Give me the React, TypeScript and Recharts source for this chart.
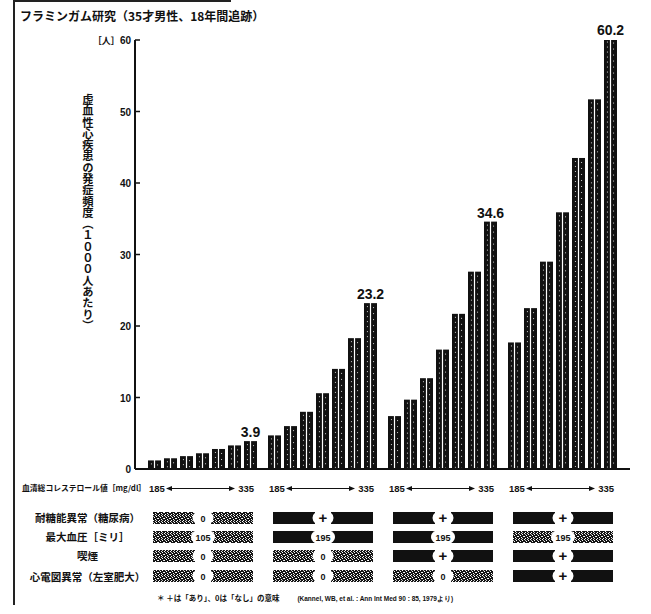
import React from 'react';
import { BarChart, Bar, XAxis, YAxis, LabelList } from 'recharts';

// ---- data ----
const groups = ['g1', 'g2', 'g3', 'g4'];
const cholesterolLevels = ['185', '210', '235', '260', '285', '310', '335'];
const group1Values = [1.2, 1.5, 1.8, 2.2, 2.8, 3.3, 3.9];
const group2Values = [4.7, 6.0, 8.0, 10.6, 14.0, 18.3, 23.2];
const group3Values = [7.4, 9.7, 12.7, 16.7, 21.7, 27.6, 34.6];
const group4Values = [17.7, 22.5, 29.0, 35.9, 43.5, 51.7, 60.2];
const yTicks = [0, 10, 20, 30, 40, 50, 60];
const cholesterolRange = ['185', '335'];
const diabetes = ['0', '+', '+', '+'];
const bloodPressure = ['105', '195', '195', '195'];
const bloodPressureFill = ['speckle', 'solid', 'solid', 'speckle'];
const smoking = ['0', '0', '+', '+'];
const ecg = ['0', '0', '0', '+'];
const rowLabels = ['耐糖能異常（糖尿病）', '最大血圧［ミリ］', '喫煙', '心電図異常（左室肥大）'];
const title = 'フラミンガム研究（35才男性、18年間追跡）';
const yLabel = '虚血性心疾患の発症頻度（１０００人あたり）';
const cholesterolLabel = '血清総コレステロール値［mg/dl］';
const footnote = '＊ ＋は「あり」、0は「なし」の意味';
const source = '(Kannel, WB, et al. : Ann Int Med 90 : 85, 1979より)';

const seriesByGroup = [group1Values, group2Values, group3Values, group4Values];
const data = groups.map((g, i) => {
  const row: any = { group: g, idx: i };
  cholesterolLevels.forEach((c, j) => {
    row['c' + c] = seriesByGroup[i][j];
  });
  return row;
});

const JP = '"Noto Sans CJK JP", "Noto Sans", sans-serif';
const NUM = '"Liberation Sans", Arial, sans-serif';

const PairBar = (props: any) => {
  const { x, y, width, height } = props;
  if (!height || height <= 0) return null;
  const gap = 1.2;
  const w = (width - gap) / 2;
  return (
    <g>
      <rect x={x} y={y} width={w} height={height} fill="#111" />
      <rect x={x + w + gap} y={y} width={w} height={height} fill="#111" />
      <line x1={x + w / 2 + 0.5} x2={x + w / 2 + 0.5} y1={y + 3} y2={y + height} stroke="#fff" strokeWidth={0.8} strokeDasharray="1 4" />
      <line x1={x + w + gap + w / 2 - 0.5} x2={x + w + gap + w / 2 - 0.5} y1={y + 4} y2={y + height} stroke="#fff" strokeWidth={0.8} strokeDasharray="1 5" />
    </g>
  );
};

const YTick = (props: any) => {
  const { x, y, payload } = props;
  const v = payload.value;
  return (
    <g>
      <text x={x} y={y} dy={4} textAnchor="end" fontFamily={NUM} fontWeight="bold" fontSize={10} fill="#111">
        {v === 60 ? (
          <>
            <tspan fontFamily={JP} fontSize={9}>［人］</tspan>
            <tspan>60</tspan>
          </>
        ) : (
          String(v)
        )}
      </text>
      <line x1={x + 4} x2={x + 9} y1={y} y2={y} stroke="#111" strokeWidth={1.5} />
    </g>
  );
};

const Cell = ({ cx, cy, symbol, fill }: any) => {
  const f = fill === 'solid' ? '#111' : 'url(#speckle)';
  const small = symbol !== '+';
  return (
    <g>
      <rect x={cx - 50} y={cy - 6} width={42} height={12} fill={f} />
      <rect x={cx + 8} y={cy - 6} width={42} height={12} fill={f} />
      <ellipse cx={cx} cy={cy} rx={symbol.length > 1 ? 12 : 10.5} ry={8} fill="#fff" />
      <text
        x={cx}
        y={cy}
        dy={small ? 3.5 : 5}
        textAnchor="middle"
        fontFamily={NUM}
        fontWeight="bold"
        fontSize={small ? 9 : 15}
        fill="#111"
      >
        {symbol}
      </text>
    </g>
  );
};

const GroupTick = (props: any) => {
  const { x, y, index } = props;
  const cx = x;
  const rowY = [y + 49, y + 68, y + 87, y + 107];
  const symFill = (s: string) => (s === '+' ? 'solid' : 'speckle');
  return (
    <g>
      {index === 0 && (
        <defs>
          <pattern id="speckle" width={6} height={6} patternUnits="userSpaceOnUse">
            <rect width={6} height={6} fill="#151515" />
            <rect x={0} y={0} width={1} height={1} fill="#fff" />
            <rect x={3} y={0} width={1} height={1} fill="#bbb" />
            <rect x={4} y={1} width={1} height={1} fill="#fff" />
            <rect x={1} y={2} width={1} height={1} fill="#eee" />
            <rect x={2} y={2} width={1} height={1} fill="#fff" />
            <rect x={5} y={3} width={1} height={1} fill="#fff" />
            <rect x={0} y={4} width={1} height={1} fill="#ccc" />
            <rect x={3} y={4} width={1} height={1} fill="#fff" />
            <rect x={2} y={5} width={1} height={1} fill="#fff" />
            <rect x={5} y={5} width={1} height={1} fill="#ddd" />
          </pattern>
          <marker id="ah" markerWidth={6} markerHeight={6} refX={5} refY={3} orient="auto-start-reverse" markerUnits="userSpaceOnUse">
            <path d="M0,0.5 L6,3 L0,5.5 Z" fill="#111" />
          </marker>
        </defs>
      )}
      <text x={cx - 54} y={y + 23} fontFamily={NUM} fontWeight="bold" fontSize={9.5} fill="#111">
        {cholesterolRange[0]}
      </text>
      <line x1={cx - 36} x2={cx + 31} y1={y + 19.5} y2={y + 19.5} stroke="#111" strokeWidth={1} markerStart="url(#ah)" markerEnd="url(#ah)" />
      <text x={cx + 51} y={y + 23} textAnchor="end" fontFamily={NUM} fontWeight="bold" fontSize={9.5} fill="#111">
        {cholesterolRange[1]}
      </text>
      <Cell cx={cx} cy={rowY[0]} symbol={diabetes[index]} fill={symFill(diabetes[index])} />
      <Cell cx={cx} cy={rowY[1]} symbol={bloodPressure[index]} fill={bloodPressureFill[index]} />
      <Cell cx={cx} cy={rowY[2]} symbol={smoking[index]} fill={symFill(smoking[index])} />
      <Cell cx={cx} cy={rowY[3]} symbol={ecg[index]} fill={symFill(ecg[index])} />
    </g>
  );
};

export default function App() {
  const rowTops = [511, 530, 549, 570];
  return (
    <div style={{ position: 'absolute', left: 0, top: 0, width: 651, height: 614, background: '#fff', overflow: 'hidden' }}>
      {/* frame lines */}
      <div style={{ position: 'absolute', left: 13, top: 0, width: 2, height: 605, background: '#222' }} />
      <div style={{ position: 'absolute', left: 13, top: 0, width: 218, height: 2, background: '#222' }} />
      <div style={{ position: 'absolute', left: 20, top: 9, fontFamily: JP, fontWeight: 'bold', fontSize: 12, lineHeight: '14px', color: '#111', whiteSpace: 'nowrap' }}>
        {title}
      </div>
      <div
        style={{
          position: 'absolute',
          left: 81,
          top: 94,
          writingMode: 'vertical-rl',
          fontFamily: JP,
          fontWeight: 'bold',
          fontSize: 11.3,
          lineHeight: '13px',
          color: '#111',
          whiteSpace: 'nowrap',
        }}
      >
        {yLabel}
      </div>
      <BarChart
        width={651}
        height={614}
        data={data}
        margin={{ top: 40, right: 21, bottom: 5, left: 105 }}
        barCategoryGap={5}
        barGap={3}
        style={{ position: 'absolute', left: 0, top: 0 }}
      >
        <YAxis
          width={30}
          domain={[0, 60]}
          ticks={yTicks}
          allowDataOverflow
          tickSize={0}
          tickMargin={4}
          tick={<YTick />}
          axisLine={{ stroke: '#111', strokeWidth: 2 }}
          tickLine={false}
        />
        <XAxis
          dataKey="group"
          height={140}
          padding={{ left: 8, right: 7 }}
          tickSize={0}
          tickMargin={0}
          tickLine={false}
          interval={0}
          tick={<GroupTick />}
          axisLine={{ stroke: '#111', strokeWidth: 2 }}
        />
        {cholesterolLevels.map((c, j) => (
          <Bar key={c} dataKey={'c' + c} shape={<PairBar />} isAnimationActive={false}>
            {j === cholesterolLevels.length - 1 && (
              <LabelList
                dataKey={'c' + c}
                position="top"
                offset={4}
                formatter={(v: any) => Number(v).toFixed(1)}
                style={{ fontFamily: NUM, fontWeight: 'bold', fontSize: 14, fill: '#111' }}
              />
            )}
          </Bar>
        ))}
      </BarChart>
      <div style={{ position: 'absolute', left: 22, top: 483, fontFamily: JP, fontWeight: 'bold', fontSize: 7.8, lineHeight: '10px', color: '#111', whiteSpace: 'nowrap' }}>
        {cholesterolLabel}
      </div>
      {rowLabels.map((t, i) => (
        <div
          key={t}
          style={{
            position: 'absolute',
            left: 10,
            width: 155,
            top: rowTops[i],
            textAlign: 'center',
            fontFamily: JP,
            fontWeight: 'bold',
            fontSize: 10.5,
            lineHeight: '13px',
            color: '#111',
            whiteSpace: 'nowrap',
          }}
        >
          {t}
        </div>
      ))}
      <div style={{ position: 'absolute', left: 157, top: 593, fontFamily: JP, fontWeight: 'bold', fontSize: 7.5, lineHeight: '10px', color: '#111', whiteSpace: 'nowrap' }}>
        {footnote}
        <span style={{ marginLeft: 18, fontFamily: NUM, fontSize: 6.5 }}>{source}</span>
      </div>
    </div>
  );
}
